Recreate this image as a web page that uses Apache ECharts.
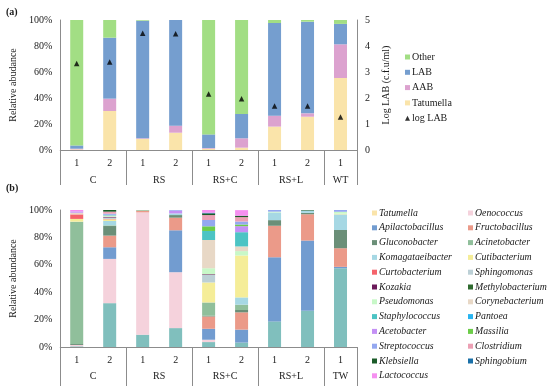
<!DOCTYPE html>
<html><head><meta charset="utf-8">
<script src="https://cdn.jsdelivr.net/npm/echarts@6/dist/echarts.min.js"></script>
<style>html,body{margin:0;padding:0;background:#fff}#c{width:550px;height:386px}</style>
</head><body><div id="c"></div>
<script>
// ---------- shared ----------
const samples = ['1','2','1','2','1','2','1','2','1'];
// group labels placed on 19 half-band slots (boundaryGap false)
const groupSlotsA = ['','','C','','','','RS','','','','RS+C','','','','RS+L','','','WT',''];
const groupSlotsB = ['','','C','','','','RS','','','','RS+C','','','','RS+L','','','TW',''];

// ---------- panel (a) ----------
const tatumellaA = [0.5, 30, 8.5, 13.3, 1, 1.8, 18, 25.6, 55.4];
const aabA       = [0.5, 9.5, 0.5, 5.4, 0.5, 7.2, 8.4, 2.6, 25.9];
const labA       = [2.5, 46.9, 90.5, 81.3, 10.5, 18.7, 71.3, 70.5, 15.7];
const otherA     = [96.5, 13.6, 0.5, 0, 88, 72.3, 2.3, 1.3, 3];
const logLab     = [3.33, 3.38, 4.49, 4.47, 2.15, 1.97, 1.69, 1.69, 1.27];

// ---------- panel (b) ----------
const Tatumella        = [0.5, 32, 9, 13.8, 3.6, 3.2, 18.7, 26.5, 57.5];
const Oenococcus       = [1, 32.3, 89.3, 40.8, 1.7, 0, 0, 0, 0];
const Apilactobacillus = [0, 8.5, 0, 30.6, 8, 9.5, 46.8, 51.2, 1];
const Fructobacillus   = [0, 8.5, 1.2, 9.2, 9, 12.6, 23, 19.2, 13.6];
const Gluconobacter    = [0.7, 7, 0, 1.9, 0.5, 1.7, 4.1, 1, 13.3];
const Acinetobacter    = [89.3, 0.5, 0.5, 0, 9.7, 3.9, 0, 0, 0];
const Komagataeibacter = [0, 3.2, 0, 1.2, 0, 5.3, 5.6, 1.7, 11.4];
const Cutibacterium    = [2, 1.2, 0, 0, 14.6, 30.6, 0, 0, 0.5];
const Curtobacterium   = [3.3, 0.3, 0, 0, 0, 0, 0, 0, 0];
const Sphingomonas     = [0, 1, 0, 0, 5.5, 0, 0, 0, 0];
const Kozakia          = [0, 0.5, 0, 0, 0.5, 0, 0, 0, 0];
const Methylobacterium = [0, 0, 0, 0, 0, 0, 0, 0, 0];
const Pseudomonas      = [0, 0.5, 0, 0, 4.4, 3.2, 0.6, 0, 1.4];
const Corynebacterium  = [1.2, 0.5, 0, 0, 20.6, 3.4, 0, 0, 0];
const Staphylococcus   = [0, 0.5, 0, 0, 6.6, 10.4, 0, 0, 0];
const Pantoea          = [0, 0, 0, 0, 0, 0, 0, 0, 0];
const Acetobacter      = [1, 0, 0, 2, 0, 4.4, 0, 0, 0];
const Massilia         = [0, 0, 0, 0, 3.4, 1.2, 0, 0, 0];
const Streptococcus    = [0, 0.8, 0, 0.5, 4.6, 2.2, 1.2, 0, 1.3];
const Clostridium      = [0, 1.5, 0, 0, 3.6, 3.2, 0, 0, 0];
const Klebsiella       = [0, 1.2, 0, 0, 1.2, 1, 0, 0.4, 0];
const Sphingobium      = [0, 0, 0, 0, 0.5, 0, 0, 0, 0];
const Lactococcus      = [1, 0, 0, 0, 2, 4.1, 0, 0, 0];

const genera = [
  ['Tatumella', Tatumella, '#80bfbd'],
  ['Oenococcus', Oenococcus, '#f5d2dc'],
  ['Apilactobacillus', Apilactobacillus, '#729cd0'],
  ['Fructobacillus', Fructobacillus, '#eb9a89'],
  ['Gluconobacter', Gluconobacter, '#6b8f78'],
  ['Acinetobacter', Acinetobacter, '#90bf9b'],
  ['Komagataeibacter', Komagataeibacter, '#a6d8e4'],
  ['Cutibacterium', Cutibacterium, '#f5ed98'],
  ['Curtobacterium', Curtobacterium, '#f5636b'],
  ['Sphingomonas', Sphingomonas, '#bcd0d6'],
  ['Kozakia', Kozakia, '#6b1a5a'],
  ['Methylobacterium', Methylobacterium, '#2e6a2e'],
  ['Pseudomonas', Pseudomonas, '#c8f8c8'],
  ['Corynebacterium', Corynebacterium, '#e8d8c6'],
  ['Staphylococcus', Staphylococcus, '#4cc4c4'],
  ['Pantoea', Pantoea, '#28b4f0'],
  ['Acetobacter', Acetobacter, '#c490f5'],
  ['Massilia', Massilia, '#6ccc48'],
  ['Streptococcus', Streptococcus, '#94a8f0'],
  ['Clostridium', Clostridium, '#eca0b4'],
  ['Klebsiella', Klebsiella, '#1a5a28'],
  ['Sphingobium', Sphingobium, '#1a70a8'],
  ['Lactococcus', Lactococcus, '#f590f0']
];

const FONT = 'Liberation Serif';
const AX = '#8c8c8c';
const TXT = '#1a1a1a';

const chart = echarts.init(document.getElementById('c'), null, {renderer:'canvas'});

function mainX(gridIndex, tickLen){
  return {
    type:'category', gridIndex, data: samples, position:'bottom',
    axisLine:{show:true, lineStyle:{color:AX, width:1}},
    axisTick:{show:true, interval:(i)=> i % 2 === 0, length:tickLen, lineStyle:{color:AX, width:1}},
    axisLabel:{interval:0, margin:8, fontFamily:FONT, fontSize:10, color:TXT}
  };
}
function groupX(gridIndex, slots, margin){
  return {
    type:'category', gridIndex, data: slots, position:'bottom', boundaryGap:false,
    axisLine:{show:false}, axisTick:{show:false}, splitLine:{show:false},
    axisLabel:{interval:0, margin, fontFamily:FONT, fontSize:10, color:TXT}
  };
}
function pctY(gridIndex, name){
  return {
    type:'value', gridIndex, min:0, max:100, interval:20,
    axisLine:{show:true, lineStyle:{color:AX}}, axisTick:{show:false}, splitLine:{show:false},
    axisLabel:{formatter:'{value}%', margin:8, fontFamily:FONT, fontSize:10, color:TXT},
    name, nameLocation:'middle', nameGap:36, nameRotate:90,
    nameTextStyle:{fontFamily:FONT, fontSize:10, color:TXT}
  };
}

const seriesA = [
  ['Tatumella', tatumellaA, '#fae4aa'],
  ['AAB', aabA, '#dca2cf'],
  ['LAB', labA, '#759ecf'],
  ['Other', otherA, '#a2de84']
].map(([n, d, c]) => ({
  name:n, type:'bar', stack:'a', xAxisIndex:0, yAxisIndex:0, data:d, barWidth:13,
  itemStyle:{color:c}, emphasis:{disabled:true}
}));
seriesA.push({
  name:'log LAB', type:'scatter', xAxisIndex:0, yAxisIndex:1, data:logLab,
  symbol:'triangle', symbolSize:5.5, itemStyle:{color:'#000'}, z:5
});

const seriesB = genera.map(([n, d, c]) => ({
  name:n, type:'bar', stack:'b', xAxisIndex:2, yAxisIndex:2, data:d, barWidth:13,
  itemStyle:{color:c}, emphasis:{disabled:true}
}));

const legendLeft = genera.filter((g,i)=> i%2===0).map(g=>g[0]);
const legendRight = genera.filter((g,i)=> i%2===1).map(g=>g[0]);

const legendCommon = {
  orient:'vertical', itemWidth:5, itemHeight:5, icon:'rect', padding:0,
  textStyle:{fontFamily:FONT, fontSize:10, color:TXT, padding:[0,0,0,-3]},
  selectedMode:false
};
const italicText = Object.assign({}, legendCommon.textStyle, {fontStyle:'italic', fontSize:9.8});

const option = {
  animation:false,
  backgroundColor:'#fff',
  title:[
    {text:'(a)', left:1, top:2, textStyle:{fontFamily:FONT, fontSize:10, fontWeight:'bold', color:TXT}},
    {text:'(b)', left:1, top:178, textStyle:{fontFamily:FONT, fontSize:10, fontWeight:'bold', color:TXT}}
  ],
  grid:[
    {left:53, width:304, top:20, height:130},
    {left:53, width:304, top:210, height:137}
  ],
  legend:[
    Object.assign({}, legendCommon, {left:405, top:52, itemGap:5.3,
      data:['Other','LAB','AAB','Tatumella',{name:'log LAB', icon:'triangle'}]}),
    Object.assign({}, legendCommon, {left:372, top:208, itemGap:4.8, data:legendLeft, textStyle:italicText}),
    Object.assign({}, legendCommon, {left:468, top:208, itemGap:4.8, data:legendRight, textStyle:italicText})
  ],
  xAxis:[
    mainX(0, 35), groupX(0, groupSlotsA, 25),
    mainX(1, 40), groupX(1, groupSlotsB, 24)
  ],
  yAxis:[
    pctY(0, 'Relative abudance'),
    {
      type:'value', gridIndex:0, position:'right', min:0, max:5, interval:1,
      axisLine:{show:true, lineStyle:{color:AX}}, axisTick:{show:false}, splitLine:{show:false},
      axisLabel:{margin:8, fontFamily:FONT, fontSize:10, color:TXT},
      name:'Log LAB (c.f.u/ml)', nameLocation:'middle', nameGap:16, nameRotate:90,
      nameTextStyle:{fontFamily:FONT, fontSize:10, color:TXT}
    },
    pctY(1, 'Relative abundance')
  ],
  series: seriesA.concat(seriesB)
};
chart.setOption(option);
</script></body></html>
